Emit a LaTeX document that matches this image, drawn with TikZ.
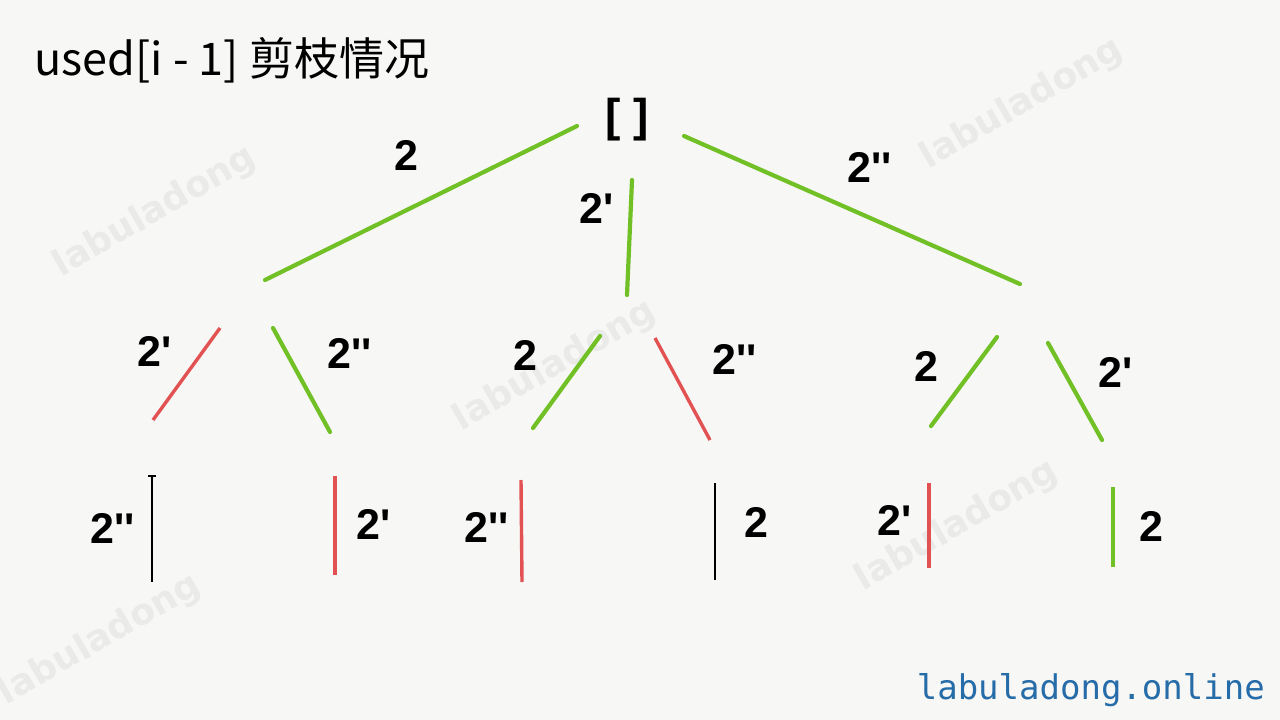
\documentclass[tikz,border=0pt]{standalone}
\usepackage{fontspec}
\newfontfamily\cjk{Noto Sans CJK SC}
\newfontfamily\lab{Liberation Sans}
\newfontfamily\wm{DejaVu Sans}
\newfontfamily\mono{DejaVu Sans Mono}
\definecolor{bg}{RGB}{247,247,245}
\definecolor{eg}{RGB}{112,192,38}
\definecolor{er}{RGB}{226,82,82}
\definecolor{wmc}{RGB}{234,234,232}
\definecolor{site}{RGB}{38,108,168}
\begin{document}
\begin{tikzpicture}[x=1pt,y=-1pt,
  gedge/.style={draw=eg,line width=4.2pt,line cap=round},
  redge/.style={draw=er,line width=3.4pt},
  bedge/.style={draw=black,line width=2.6pt},
  lbl/.style={font=\lab\bfseries\fontsize{43}{43}\selectfont,inner sep=0pt},
  wmark/.style={font=\wm\bfseries\fontsize{36}{36}\selectfont,text=wmc,rotate=30,inner sep=0pt}]
\fill[bg] (0,0) rectangle (1280,720);
\useasboundingbox (0,0) rectangle (1280,720);
% watermarks
\node[wmark] (w1) at (155,212) {labuladong};
\node[wmark] (w2) at (1022,104) {labuladong};
\node[wmark] (w3) at (555,366) {labuladong};
\node[wmark] (w4) at (957,526) {labuladong};
\node[wmark] (w5) at (100,640) {labuladong};
% title
\node[anchor=base west,inner sep=0pt,font=\cjk\fontsize{45}{45}\selectfont] (title) at (34,75) {used[i - 1] 剪枝情况};
% root
\node[font=\lab\bfseries\fontsize{46}{46}\selectfont,inner sep=0pt] (root) at (627,120) {[ ]};
% level-1 edge endpoints
\coordinate (r1) at (577,126); \coordinate (a) at (265,280);
\coordinate (r2) at (632,180); \coordinate (b) at (627,295);
\coordinate (r3) at (684,136); \coordinate (c) at (1020,284);
\draw[gedge] (r1) -- (a);
\draw[gedge] (r2) -- (b);
\draw[gedge] (r3) -- (c);
\node[lbl] (l1) at (406,155) {2};
\node[lbl] (l2) at (597,208) {2'};
\node[lbl] (l3) at (870,167) {2''};
% level-2
\coordinate (a1s) at (220,328); \coordinate (a1) at (153,420);
\coordinate (a2s) at (273,328); \coordinate (a2) at (330,432);
\coordinate (b1s) at (600,336); \coordinate (b1) at (533,428);
\coordinate (b2s) at (655,338); \coordinate (b2) at (710,440);
\coordinate (c1s) at (997,337); \coordinate (c1) at (931,426);
\coordinate (c2s) at (1048,343); \coordinate (c2) at (1102,440);
\draw[redge] (a1s) -- (a1);
\draw[gedge] (a2s) -- (a2);
\draw[gedge] (b1s) -- (b1);
\draw[redge] (b2s) -- (b2);
\draw[gedge] (c1s) -- (c1);
\draw[gedge] (c2s) -- (c2);
\node[lbl] (m1) at (155,351) {2'};
\node[lbl] (m2) at (350,353) {2''};
\node[lbl] (m3) at (525,355) {2};
\node[lbl] (m4) at (735,359) {2''};
\node[lbl] (m5) at (926,366) {2};
\node[lbl] (m6) at (1116,372) {2'};
% level-3
\coordinate (p1s) at (152,476); \coordinate (p1) at (152,582);
\coordinate (p2s) at (335,476); \coordinate (p2) at (335,575);
\coordinate (p3s) at (521,480); \coordinate (p3) at (522,582);
\coordinate (p4s) at (715,483); \coordinate (p4) at (715,580);
\coordinate (p5s) at (929,483); \coordinate (p5) at (929,568);
\coordinate (p6s) at (1113,487); \coordinate (p6) at (1113,567);
\draw[bedge] (p1s) -- (p1);
\draw[bedge] (148,476) -- (156,476);
\draw[redge] (p2s) -- (p2);
\draw[redge] (p3s) -- (p3);
\draw[bedge] (p4s) -- (p4);
\draw[redge] (p5s) -- (p5);
\draw[gedge,line cap=butt,line width=3.6pt] (p6s) -- (p6);
\node[lbl] (n1) at (113,528) {2''};
\node[lbl] (n2) at (374,524) {2'};
\node[lbl] (n3) at (487,527) {2''};
\node[lbl] (n4) at (756,522) {2};
\node[lbl] (n5) at (895,520) {2'};
\node[lbl] (n6) at (1151,526) {2};
% site
\node[anchor=base east,inner sep=0pt,font=\mono\fontsize{34}{34}\selectfont,text=site] (site) at (1265,699) {labuladong.online};
\end{tikzpicture}
\end{document}
